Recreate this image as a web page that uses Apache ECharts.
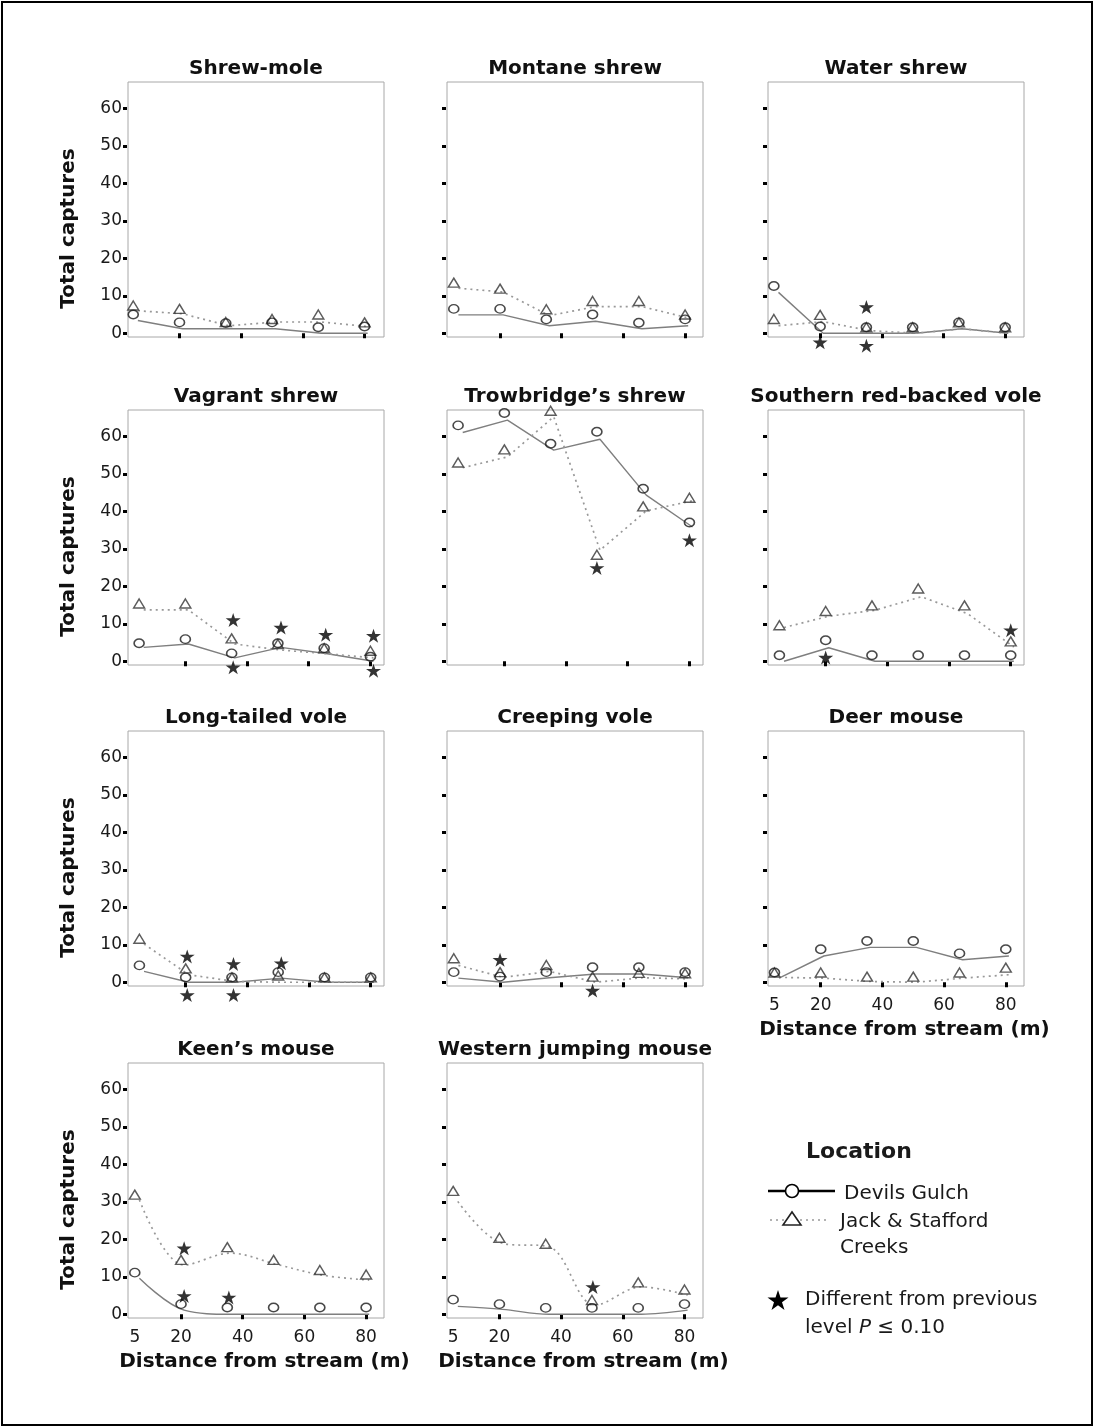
<!DOCTYPE html>
<html>
<head>
<meta charset="utf-8">
<script src="https://cdn.jsdelivr.net/npm/echarts@6/dist/echarts.min.js"></script>
<style>
html,body{margin:0;padding:0;background:#fff;}
#chart{position:absolute;left:0;top:0;width:1094px;height:1427px;}
#frame{position:absolute;left:1px;top:1px;width:1088px;height:1421px;border:2px solid #000;pointer-events:none;}
</style>
</head>
<body>
<div id="chart"></div>
<div id="frame"></div>
<script>
// ---------------- data ----------------
const SPECIES = ['Shrew-mole','Montane shrew','Water shrew','Vagrant shrew','Trowbridge\u2019s shrew','Southern red-backed vole','Long-tailed vole','Creeping vole','Deer mouse','Keen\u2019s mouse','Western jumping mouse'];
const DISTANCES = [5,20,35,50,65,80];
const LINE_DISTANCES = [6.5,21,36,51,66,81];
const X_TICKS = [20,40,60,80];
const X_TICK_LABELS = [5,20,40,60,80];
const Y_TICKS = [0,10,20,30,40,50,60];

// Devils Gulch: plotted points (circles)
const DEVILS_POINTS = [
  [5.0,2.9,2.7,2.9,1.6,1.8],
  [6.5,6.5,3.7,5.0,2.8,3.7],
  [12.6,1.8,1.6,1.6,2.9,1.6],
  [4.8,5.9,2.1,4.8,3.5,1.2],
  [62.9,66.2,58.0,61.2,46.0,37.0],
  [1.6,5.6,1.6,1.6,1.6,1.6],
  [4.5,1.3,1.3,2.7,1.3,1.3],
  [2.7,1.5,2.7,4.0,4.0,2.7],
  [2.6,8.8,11.0,11.0,7.7,8.8],
  [11.1,2.7,1.8,1.8,1.8,1.8],
  [3.9,2.7,1.7,1.7,1.7,2.7]
];
// Jack & Stafford Creeks: plotted points (triangles)
const JACK_POINTS = [
  [7.4,6.5,3.0,3.8,5.0,2.9],
  [13.5,11.9,6.4,8.6,8.6,5.0],
  [3.8,4.9,1.6,1.6,2.9,1.6],
  [15.4,15.4,6.1,4.6,3.5,2.8],
  [53.0,56.5,66.8,28.4,41.3,43.6],
  [9.6,13.4,14.9,19.4,14.9,5.3],
  [11.6,3.7,1.3,1.8,1.3,1.3],
  [6.4,2.7,4.6,1.5,2.5,2.4],
  [2.6,2.6,1.5,1.5,2.6,3.9],
  [31.9,14.5,17.9,14.5,11.8,10.6],
  [32.9,20.4,18.8,3.8,8.5,6.6]
];
// Devils Gulch: solid line
const DEVILS_LINE = [
  [3.4,1.2,1.2,1.2,0,0],
  [4.9,4.9,2.0,3.2,1.2,2.0],
  [10.9,0,0,0,1.2,0],
  [3.7,4.6,0.9,3.7,2.0,0],
  [61.0,64.3,56.3,59.2,44.3,35.8],
  [0,3.6,0,0,0,0],
  [2.9,0,0,1.1,0,0],
  [1.1,0,1.2,2.2,2.2,1.2],
  [1.1,7.0,9.3,9.3,6.0,7.0],
  [9.6,1.1,0,0,0,0],
  [2.1,1.3,0,0,0,1.1]
];
// Jack & Stafford Creeks: dotted line
const JACK_LINE = [
  [6.0,5.2,2.0,3.0,3.0,1.8],
  [12.0,11.0,4.7,7.1,7.1,4.1],
  [2.0,3.1,0.7,0,1.2,0],
  [13.7,13.7,4.6,3.0,2.0,0.9],
  [51.6,54.5,65.2,29.6,40.1,42.8],
  [9.0,12.0,13.6,17.2,12.7,3.8],
  [10.2,2.0,0.2,0,0,0],
  [4.5,1.3,2.9,0,1.2,0.9],
  [1.3,1.1,0.2,0,1.1,2.0],
  [30.5,13.1,16.3,13.3,10.4,9.1],
  [30.1,18.9,18.0,2.4,7.3,5.1]
];
// significance stars [distance, y]
const STARS = [
  [],
  [],
  [[20,-2.4],[35,7.0],[35,-3.3]],
  [[35.5,11.0],[35.5,-1.6],[51,9.0],[65.5,7.1],[81,6.8],[81,-2.5]],
  [[50,24.9],[80,32.3]],
  [[20,1.0],[80,8.3]],
  [[20.5,6.9],[20.5,-3.4],[35.5,4.9],[35.5,-3.4],[51,5.1]],
  [[20,6.0],[50,-2.2]],
  [],
  [[21,17.6],[21,4.9],[35.5,4.5]],
  [[50.3,7.3]]
];

// ---------------- layout / style ----------------
const FONT = "'DejaVu Sans', Verdana, sans-serif";
const COL_LEFT = [128, 447, 768];
const ROW_TOP = [82, 410, 731, 1063];
const GRID_W = 256, GRID_H = 255;
const X_MIN = [3.3, 2.8, 3.1, 1.4, 1.4, 1.3, 1.3, 2.8, 2.9, 2.8, 3.0];
const X_SPAN = 83;
const X_LABEL_PANELS = [8, 9, 10];
const SMOOTH_PANELS = [9, 10];
const STAR = 'path://M50,0L61.2,34.5L97.6,34.5L68.2,55.9L79.4,90.5L50,69.1L20.6,90.5L31.8,55.9L2.4,34.5L38.8,34.5Z';

const grids = [], xAxes = [], yAxes = [], series = [], titles = [];
SPECIES.forEach((name, i) => {
  const r = Math.floor(i / 3), c = i % 3;
  const left = COL_LEFT[c], top = ROW_TOP[r];
  grids.push({left, top, width: GRID_W, height: GRID_H, show: true,
    borderColor: '#a8a8a8', borderWidth: 1, backgroundColor: 'rgba(0,0,0,0)'});
  titles.push({text: name, left: left + GRID_W / 2, top: top - 13.3, textAlign: 'center',
    textVerticalAlign: 'middle', padding: 0,
    textStyle: {fontFamily: FONT, fontSize: 20, fontWeight: 'bold', color: '#111'}});
  const showX = X_LABEL_PANELS.includes(i);
  xAxes.push({type: 'value', gridIndex: i, min: X_MIN[i], max: X_MIN[i] + X_SPAN, offset: 2,
    axisLine: {show: false}, splitLine: {show: false},
    axisTick: {show: true, length: 5, customValues: X_TICKS, lineStyle: {color: '#000', width: 3}},
    axisLabel: {show: showX, customValues: X_TICK_LABELS, margin: 9, fontFamily: FONT, fontSize: 17, color: '#1a1a1a'},
    name: showX ? 'Distance from stream (m)' : '', nameLocation: 'middle', nameGap: 32,
    nameTextStyle: {fontFamily: FONT, fontSize: 20, fontWeight: 'bold', color: '#111', padding: [0, 0, 0, 17]}
  });
  yAxes.push({type: 'value', gridIndex: i, min: -1, max: 67, offset: 1,
    axisLine: {show: false}, splitLine: {show: false},
    axisTick: {show: true, length: 4, customValues: Y_TICKS, lineStyle: {color: '#000', width: 3}},
    axisLabel: {show: c === 0, customValues: Y_TICKS, margin: 5, fontFamily: FONT, fontSize: 17, color: '#1a1a1a'},
    name: c === 0 ? 'Total captures' : '', nameLocation: 'middle', nameGap: 48,
    nameTextStyle: {fontFamily: FONT, fontSize: 20, fontWeight: 'bold', color: '#111', padding: [0, 38, 0, 0]}
  });
  const smooth = SMOOTH_PANELS.includes(i) ? 0.35 : false;
  series.push({type: 'line', name: 'Devils Gulch', xAxisIndex: i, yAxisIndex: i,
    data: LINE_DISTANCES.map((x, k) => [x, DEVILS_LINE[i][k]]),
    symbol: 'none', smooth, lineStyle: {color: '#7f7f7f', width: 1.4}, z: 2, silent: true});
  series.push({type: 'line', name: 'Jack & Stafford Creeks', xAxisIndex: i, yAxisIndex: i,
    data: LINE_DISTANCES.map((x, k) => [x, JACK_LINE[i][k]]),
    symbol: 'none', smooth, lineStyle: {color: '#999', width: 1.7, type: [2, 4]}, z: 2, silent: true});
  series.push({type: 'scatter', xAxisIndex: i, yAxisIndex: i,
    data: DISTANCES.map((x, k) => [x, JACK_POINTS[i][k]]),
    symbol: 'triangle', symbolSize: [11, 9], clip: false, z: 3, silent: true,
    itemStyle: {color: 'rgba(0,0,0,0)', borderColor: '#333', borderWidth: 1.4}});
  series.push({type: 'scatter', xAxisIndex: i, yAxisIndex: i,
    data: DISTANCES.map((x, k) => [x, DEVILS_POINTS[i][k]]),
    symbol: 'circle', symbolSize: [10, 8.5], clip: false, z: 4, silent: true,
    itemStyle: {color: 'rgba(0,0,0,0)', borderColor: '#1a1a1a', borderWidth: 1.5}});
  series.push({type: 'scatter', xAxisIndex: i, yAxisIndex: i, data: STARS[i],
    symbol: STAR, symbolSize: [15, 14], clip: false, z: 5, silent: true,
    itemStyle: {color: '#000'}});
});

const textStyle = (t, size, weight) => ({text: t, font: (weight || 'normal') + ' ' + size + 'px ' + FONT, fill: '#1a1a1a', verticalAlign: 'middle'});
const graphic = [
  {type: 'text', x: 806, y: 1152, style: textStyle('Location', 22, 'bold')},
  {type: 'line', shape: {x1: 768, y1: 1191, x2: 835, y2: 1191}, style: {stroke: '#000', lineWidth: 2.5}},
  {type: 'circle', shape: {cx: 792, cy: 1191, r: 6.5}, style: {fill: '#fff', stroke: '#000', lineWidth: 1.6}},
  {type: 'text', x: 844, y: 1194, style: textStyle('Devils Gulch', 20)},
  {type: 'line', shape: {x1: 770, y1: 1220, x2: 828, y2: 1220}, style: {stroke: '#999', lineWidth: 1.5, lineDash: [2, 4]}},
  {type: 'polygon', shape: {points: [[783, 1225], [801, 1225], [792, 1212]]}, style: {fill: '#fff', stroke: '#222', lineWidth: 1.6}},
  {type: 'text', x: 840, y: 1222, style: textStyle('Jack & Stafford', 20)},
  {type: 'text', x: 840, y: 1248, style: textStyle('Creeks', 20)},
  {type: 'polygon', shape: {points: [[778,1290],[780.5,1297.6],[788.5,1297.6],[782,1302.3],[784.5,1309.9],[778,1305.2],[771.5,1309.9],[774,1302.3],[767.5,1297.6],[775.5,1297.6]]}, style: {fill: '#000'}},
  {type: 'text', x: 805, y: 1300, style: textStyle('Different from previous', 20)},
  {type: 'text', x: 805, y: 1328, style: {text: '{a|level }{b|P}{a| \u2264 0.10}', verticalAlign: 'middle',
    rich: {a: {fontFamily: FONT, fontSize: 20, fill: '#1a1a1a'}, b: {fontFamily: FONT, fontSize: 20, fontStyle: 'italic', fill: '#1a1a1a'}}}}
];

const chart = echarts.init(document.getElementById('chart'));
chart.setOption({
  animation: false,
  backgroundColor: '#fff',
  title: titles,
  grid: grids,
  xAxis: xAxes,
  yAxis: yAxes,
  series,
  graphic
});
</script>
</body>
</html>
